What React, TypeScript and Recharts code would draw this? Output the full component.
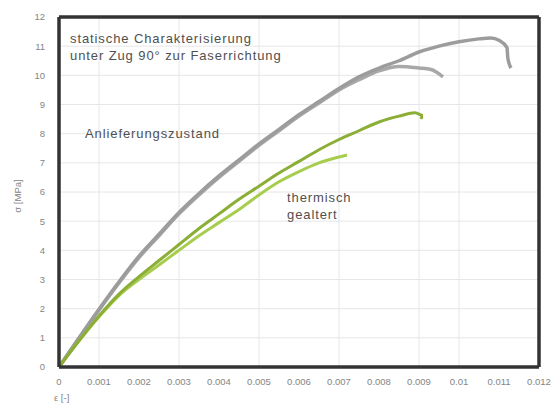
import React from 'react';
import { LineChart, Line, XAxis, YAxis, CartesianGrid, ReferenceLine } from 'recharts';

// strain [-] / stress [MPa]
const grayLongStrain = [0, 0.0005, 0.001, 0.0015, 0.002, 0.0025, 0.003, 0.0035, 0.004, 0.0045, 0.005, 0.0055, 0.006, 0.0065, 0.007, 0.0075, 0.008, 0.0085, 0.009, 0.0095, 0.01, 0.0105, 0.0108, 0.011, 0.0112, 0.01122, 0.0113];
const grayLongStress = [0, 1.0, 1.98, 2.92, 3.8, 4.55, 5.3, 5.95, 6.55, 7.1, 7.65, 8.15, 8.65, 9.1, 9.55, 9.95, 10.25, 10.5, 10.8, 11.0, 11.15, 11.25, 11.28, 11.2, 10.95, 10.6, 10.25];

const grayShortStrain = [0, 0.0005, 0.001, 0.0015, 0.002, 0.0025, 0.003, 0.0035, 0.004, 0.0045, 0.005, 0.0055, 0.006, 0.0065, 0.007, 0.0075, 0.008, 0.0085, 0.009, 0.0093, 0.0096];
const grayShortStress = [0, 0.98, 1.95, 2.88, 3.75, 4.5, 5.25, 5.9, 6.5, 7.05, 7.6, 8.1, 8.6, 9.05, 9.5, 9.85, 10.15, 10.3, 10.25, 10.2, 9.95];

const greenUpperStrain = [0, 0.0005, 0.001, 0.0015, 0.002, 0.0025, 0.003, 0.0035, 0.004, 0.0045, 0.005, 0.0055, 0.006, 0.0065, 0.007, 0.0075, 0.008, 0.0085, 0.0089, 0.0091, 0.00905];
const greenUpperStress = [0, 0.9, 1.75, 2.5, 3.1, 3.65, 4.2, 4.75, 5.25, 5.75, 6.2, 6.65, 7.05, 7.45, 7.8, 8.1, 8.4, 8.6, 8.72, 8.62, 8.5];

const greenLowerStrain = [0, 0.0005, 0.001, 0.0015, 0.002, 0.0025, 0.003, 0.0035, 0.004, 0.0045, 0.005, 0.0055, 0.006, 0.0065, 0.007, 0.0072];
const greenLowerStress = [0, 0.9, 1.72, 2.45, 3.0, 3.5, 4.0, 4.5, 4.95, 5.4, 5.9, 6.35, 6.7, 7.0, 7.2, 7.27];

const xTicks = [0, 0.001, 0.002, 0.003, 0.004, 0.005, 0.006, 0.007, 0.008, 0.009, 0.01, 0.011, 0.012];
const yTicks = [0, 1, 2, 3, 4, 5, 6, 7, 8, 9, 10, 11, 12];

const toPoints = (xs: number[], ys: number[]) => xs.map((x, i) => ({ x, y: ys[i] }));

const curves = [
  { name: 'gray2', data: toPoints(grayShortStrain, grayShortStress), color: '#a8a8a8', width: 3.5 },
  { name: 'gray1', data: toPoints(grayLongStrain, grayLongStress), color: '#9c9c9c', width: 3.5 },
  { name: 'green2', data: toPoints(greenLowerStrain, greenLowerStress), color: '#a7cd4e', width: 3 },
  { name: 'green1', data: toPoints(greenUpperStrain, greenUpperStress), color: '#8aae36', width: 3 },
];

const font = '"Liberation Sans", Arial, sans-serif';
const note: React.CSSProperties = { position: 'absolute', fontFamily: font, fontSize: 13, letterSpacing: 0.9, color: '#505050', lineHeight: '17px', whiteSpace: 'nowrap' };
const tickStyle = { fontSize: 9.5, fill: '#858585', fontFamily: font };
const frame = { stroke: '#333', strokeWidth: 3.5, ifOverflow: 'visible' as const };

export default function App() {
  return (
    <div style={{ position: 'absolute', left: 0, top: 0, width: 556, height: 410, background: '#fff' }}>
      <LineChart width={556} height={410} margin={{ top: 17, right: 17, bottom: 18, left: 19 }}>
        <CartesianGrid stroke="#e6e6e6" />
        <XAxis
          type="number"
          dataKey="x"
          domain={[0, 0.012]}
          ticks={xTicks}
          axisLine={false}
          tickLine={false}
          tick={{ ...tickStyle, dy: 3 }}
          height={25}
          allowDuplicatedCategory={false}
        />
        <YAxis
          type="number"
          dataKey="y"
          domain={[0, 12]}
          ticks={yTicks}
          axisLine={false}
          tickLine={false}
          tick={{ ...tickStyle, dx: -6 }}
          width={40}
        />
        {curves.map((c) => (
          <Line
            key={c.name}
            data={c.data}
            dataKey="y"
            type="monotone"
            stroke={c.color}
            strokeWidth={c.width}
            dot={false}
            isAnimationActive={false}
          />
        ))}
        <ReferenceLine x={0} {...frame} />
        <ReferenceLine x={0.012} {...frame} />
        <ReferenceLine y={0} {...frame} />
        <ReferenceLine y={12} {...frame} />
      </LineChart>
      <div style={{ ...note, left: 70, top: 30 }}>statische Charakterisierung<br />unter Zug 90° zur Faserrichtung</div>
      <div style={{ ...note, left: 85, top: 125 }}>Anlieferungszustand</div>
      <div style={{ ...note, left: 287, top: 189 }}>thermisch<br />gealtert</div>
      <div style={{ position: 'absolute', left: 54, top: 392, fontFamily: font, fontSize: 9.5, color: '#858585' }}>ε [-]</div>
      <div style={{ position: 'absolute', left: 17, top: 196, fontFamily: font, fontSize: 9.5, color: '#858585', transform: 'translate(-50%, -50%) rotate(-90deg)', whiteSpace: 'nowrap' }}>σ [MPa]</div>
    </div>
  );
}
